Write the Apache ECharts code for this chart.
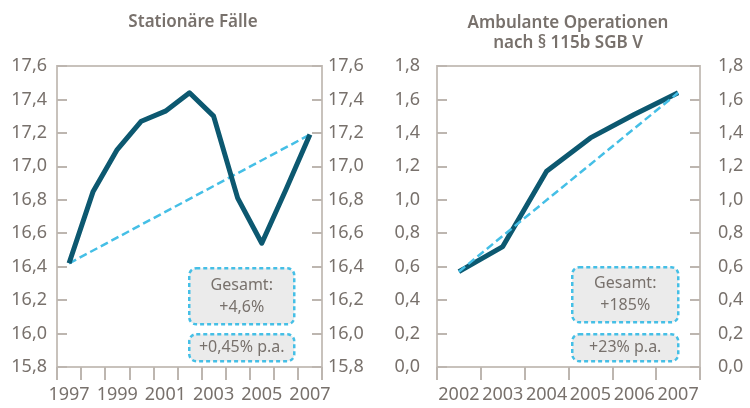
<!DOCTYPE html>
<html>
<head>
<meta charset="utf-8">
<script src="https://cdn.jsdelivr.net/npm/echarts@6/dist/echarts.min.js"></script>
<style>
  html, body { margin: 0; padding: 0; background: #fff; }
  #chart { width: 750px; height: 408px; }
</style>
</head>
<body>
<div id="chart"></div>
<script>
// Daten
const yearsA = ['1997', '1998', '1999', '2000', '2001', '2002', '2003', '2004', '2005', '2006', '2007'];
const stationaer = [16.42, 16.85, 17.10, 17.27, 17.33, 17.44, 17.30, 16.81, 16.54, 16.86, 17.19];
const yearsB = ['2002', '2003', '2004', '2005', '2006', '2007'];
const ambulant = [0.57, 0.72, 1.17, 1.37, 1.51, 1.64];
const titleA = 'Stationäre Fälle';
const titleB = 'Ambulante Operationen\nnach § 115b SGB V';
const boxA = ['Gesamt:\n+4,6%', '+0,45% p.a.'];
const boxB = ['Gesamt:\n+185%', '+23% p.a.'];

const txt = '#78716c';
const tickCol = '#bdb6b0';
const dark = '#0c5870';
const light = '#45bfe6';
const font = 'Noto Sans';

// Trendlinie: nur erster und letzter Wert
function trend(arr) {
    return arr.map((v, i) => (i === 0 || i === arr.length - 1) ? v : null);
}

function yAx(idx, pos, min, max, margin) {
    return {
        type: 'value', gridIndex: idx, position: pos,
        min: min, max: max, interval: 0.2,
        splitLine: { show: false },
        axisLine: { show: false },
        axisTick: { show: true, inside: true, length: 10, lineStyle: { color: tickCol, width: 2 } },
        axisLabel: {
            color: txt, fontSize: 18, fontFamily: font, margin: margin,
            formatter: v => v.toFixed(1).replace('.', ',')
        }
    };
}

function xAx(idx, cats, labelInterval) {
    return {
        type: 'category', gridIndex: idx, data: cats, boundaryGap: true,
        axisLine: { show: false },
        axisTick: { show: true, interval: 0, length: 13, lineStyle: { color: tickCol, width: 2 } },
        axisLabel: { interval: labelInterval, color: txt, fontSize: 18, fontFamily: font, margin: 19 }
    };
}

function box(x, y, w, h, text) {
    return {
        type: 'group', left: x, top: y,
        children: [
            { type: 'rect', shape: { x: 0, y: 0, width: w, height: h, r: 7 },
              style: { fill: '#ebebeb', stroke: light, lineWidth: 2.5, lineDash: [4, 3] } },
            { type: 'text', style: { x: w / 2, y: h / 2, text: text, align: 'center', verticalAlign: 'middle',
              fill: txt, font: '16px "Noto Sans"', lineHeight: 22 } }
        ]
    };
}

let myChart = echarts.init(document.getElementById('chart'));

let option = {
    animation: false,
    title: [
        { text: titleA, left: 188, top: 9, textAlign: 'center',
          textStyle: { color: txt, fontSize: 17, fontWeight: 600, fontFamily: font } },
        { text: titleB, left: 563, top: 8, textAlign: 'center',
          textStyle: { color: txt, fontSize: 17, fontWeight: 600, fontFamily: font, lineHeight: 20 } }
    ],
    grid: [
        { left: 57, right: 428, top: 66, bottom: 41, show: true, borderColor: '#c8c2bc', borderWidth: 2 },
        { left: 437, right: 50, top: 66, bottom: 41, show: true, borderColor: '#c8c2bc', borderWidth: 2 }
    ],
    xAxis: [
        xAx(0, yearsA, 1),
        xAx(1, yearsB, 0)
    ],
    yAxis: [
        yAx(0, 'left', 15.8, 17.6, 10),
        yAx(0, 'right', 15.8, 17.6, 6),
        yAx(1, 'left', 0, 1.8, 17),
        yAx(1, 'right', 0, 1.8, 18)
    ],
    series: [
        { type: 'line', xAxisIndex: 0, yAxisIndex: 0, data: trend(stationaer), connectNulls: true,
          symbol: 'none', lineStyle: { color: light, width: 2.5, type: [8, 4] }, z: 2 },
        { type: 'line', xAxisIndex: 0, yAxisIndex: 0, data: stationaer,
          symbol: 'none', lineStyle: { color: dark, width: 5, join: 'round' }, z: 3 },
        { type: 'line', xAxisIndex: 1, yAxisIndex: 2, data: trend(ambulant), connectNulls: true,
          symbol: 'none', lineStyle: { color: light, width: 2.5, type: [8, 4] }, z: 3 },
        { type: 'line', xAxisIndex: 1, yAxisIndex: 2, data: ambulant,
          symbol: 'none', lineStyle: { color: dark, width: 5, join: 'round' }, z: 2 }
    ],
    graphic: [
        box(188, 267, 105, 56, boxA[0]),
        box(188, 333, 105, 27, boxA[1]),
        box(571, 266, 106, 55, boxB[0]),
        box(571, 333, 106, 27, boxB[1])
    ]
};

myChart.setOption(option);
</script>
</body>
</html>
